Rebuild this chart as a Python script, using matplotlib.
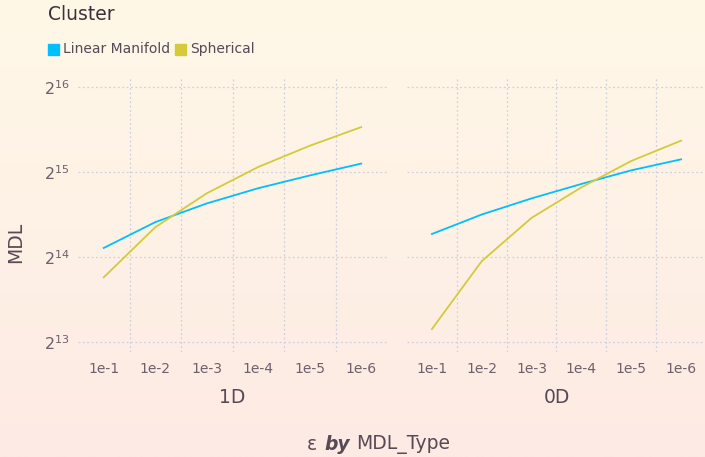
import numpy as np
import matplotlib
matplotlib.use("Agg")
from matplotlib import pyplot as plt
from matplotlib.colors import LinearSegmentedColormap

eps_labels = ["1e-1", "1e-2", "1e-3", "1e-4", "1e-5", "1e-6"]
panels = ["1D", "0D"]
clusters = ["Linear Manifold", "Spherical"]

# MDL values
mdl_1d_linear = [17630, 21770, 25360, 28720, 31870, 35120]
mdl_1d_spherical = [13870, 20880, 27550, 34160, 40620, 47310]
mdl_0d_linear = [19760, 23170, 26430, 29740, 33230, 36360]
mdl_0d_spherical = [9090, 15830, 22540, 28920, 35870, 42350]

series = {
    "1D": [mdl_1d_linear, mdl_1d_spherical],
    "0D": [mdl_0d_linear, mdl_0d_spherical],
}
colors = ["#00BFFF", "#D4CA3A"]
grid_col = "#D0D0E0"
tick_col = "#6C606B"
label_col = "#564A55"

W, H = 705, 457
fig = plt.figure(figsize=(W / 100, H / 100), dpi=100)

# gradient background
bg = fig.add_axes([0, 0, 1, 1], zorder=-10)
cmap = LinearSegmentedColormap.from_list("bg", ["#FFF8E7", "#FDEAE4"])
bg.imshow(np.linspace(0, 1, 256).reshape(-1, 1), aspect="auto", cmap=cmap,
          extent=[0, 1, 0, 1])
bg.axis("off")


def px_axes(x0, x1, y0, y1):
    return fig.add_axes([x0 / W, 1 - y1 / H, (x1 - x0) / W, (y1 - y0) / H])


axes = [px_axes(78, 387, 77, 352), px_axes(407, 706, 77, 352)]
x = np.arange(len(eps_labels))

for i, (ax, name) in enumerate(zip(axes, panels)):
    ax.set_facecolor("none")
    ax.set_yscale("log", base=2)
    ax.set_ylim(2 ** 12.88, 2 ** 16.12)
    ax.set_xlim(-0.5, len(eps_labels) - 0.5)
    for vals, c in zip(series[name], colors):
        ax.plot(x, vals, color=c, lw=1.3)
    for e in [13, 14, 15, 16]:
        ax.axhline(2 ** e, color=grid_col, lw=0.9, ls=(0, (1.5, 2)), zorder=0)
    for gx in x[:-1] + 0.5:
        ax.axvline(gx, color=grid_col, lw=0.9, ls=(0, (1.5, 2)), zorder=0)
    ax.set_xticks(x)
    ax.set_xticklabels(eps_labels, color=tick_col, fontsize=10)
    ax.set_yticks([2 ** e for e in [13, 14, 15, 16]])
    ax.minorticks_off()
    if i == 0:
        ax.set_yticklabels([f"$2^{{{e}}}$" for e in [13, 14, 15, 16]],
                           color=tick_col, fontsize=11.5)
    else:
        ax.set_yticklabels([])
    ax.tick_params(axis="x", length=0, pad=7)
    ax.tick_params(axis="y", length=0, pad=6)
    for s in ax.spines.values():
        s.set_visible(False)
    ax.set_xlabel(name, color=label_col, fontsize=13.5, labelpad=9)

fig.text(48 / W, 1 - 15 / H, "Cluster", color="#3A3238", fontsize=13.5,
         va="center", ha="left")
lx = 48
for name, c in zip(clusters, colors):
    fig.patches.append(plt.Rectangle((lx / W, 1 - 55 / H), 11 / W, 11 / H,
                                     color=c, transform=fig.transFigure))
    t = fig.text((lx + 15) / W, 1 - 49 / H, name, color=label_col,
                 fontsize=10, va="center", ha="left")
    fig.canvas.draw()
    bb = t.get_window_extent()
    lx = bb.x1 + 5

fig.text(16 / W, 1 - 242 / H, "MDL", color=label_col, fontsize=13.5,
         rotation=90, va="center", ha="center")
fig.text(317 / W, 1 - 444 / H, "ε", color=label_col, fontsize=13.5,
         va="center", ha="right")
fig.text(337 / W, 1 - 444 / H, "by", color=label_col, fontsize=13.5,
         va="center", ha="center", fontweight="bold", fontstyle="italic")
fig.text(356 / W, 1 - 444 / H, "MDL_Type", color=label_col, fontsize=13.5,
         va="center", ha="left")

fig.savefig("out.png", dpi=100)
